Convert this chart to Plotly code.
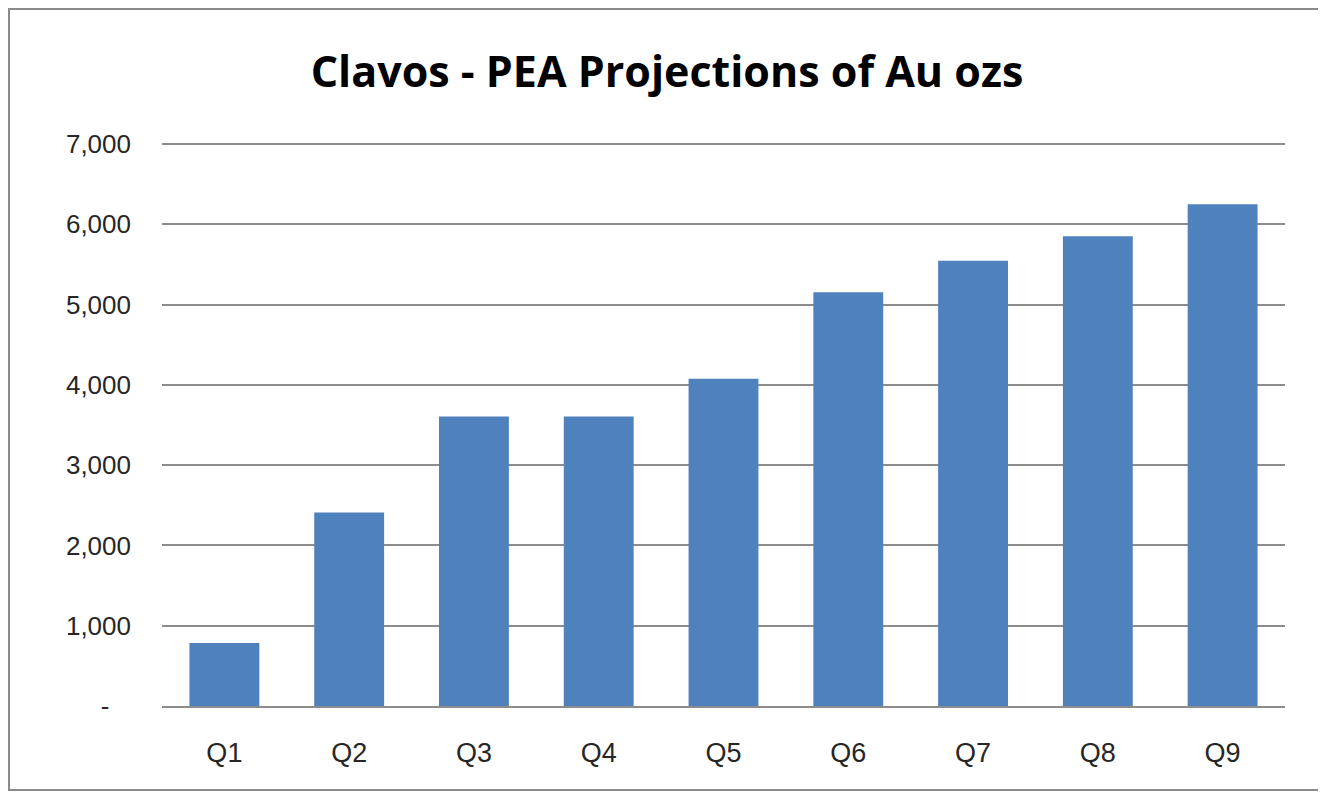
import plotly.graph_objects as go

categories = ["Q1", "Q2", "Q3", "Q4", "Q5", "Q6", "Q7", "Q8", "Q9"]
au_ozs = [785, 2410, 3605, 3605, 4075, 5155, 5545, 5850, 6250]
tick_values = [0, 1000, 2000, 3000, 4000, 5000, 6000, 7000]
tick_labels = ["-\u2007\u00a0", "1,000", "2,000", "3,000", "4,000", "5,000", "6,000", "7,000"]

W, H = 1318, 785
L, R, T, B = 154, 41, 134, 87
pw, ph = W - L - R, H - T - B

fig = go.Figure(go.Bar(x=categories, y=au_ozs, marker=dict(color="#4F81BD", line=dict(width=0))))

fig.update_layout(
    width=W, height=H,
    margin=dict(l=L, r=R, t=T, b=B),
    paper_bgcolor="white", plot_bgcolor="white",
    bargap=0.44,
    showlegend=False,
    title=dict(text="<b>Clavos - PEA Projections of Au ozs</b>", x=0.5, xanchor="center",
               y=1 - 64 / H, yanchor="middle",
               font=dict(family="Open Sans", size=43, color="black")),
    font=dict(family="Liberation Sans", size=26, color="#262626"),
)
fig.update_xaxes(showline=True, linecolor="#8c8c8c", linewidth=2, ticks="",
                 tickfont=dict(size=27), ticklabelstandoff=22)
fig.update_yaxes(range=[0, 7025], tickvals=tick_values, ticktext=tick_labels,
                 showgrid=True, gridcolor="#8c8c8c", gridwidth=2, zeroline=False,
                 ticks="", ticklabelstandoff=30, tickfont=dict(size=26))
fig.add_shape(type="rect", xref="paper", yref="paper",
              x0=-(L - 1) / pw, x1=1 + (R - 6) / pw, y0=-(B - 3) / ph, y1=1 + (T - 1) / ph,
              line=dict(color="#8a8a8a", width=2))
fig.write_html("out.html")
